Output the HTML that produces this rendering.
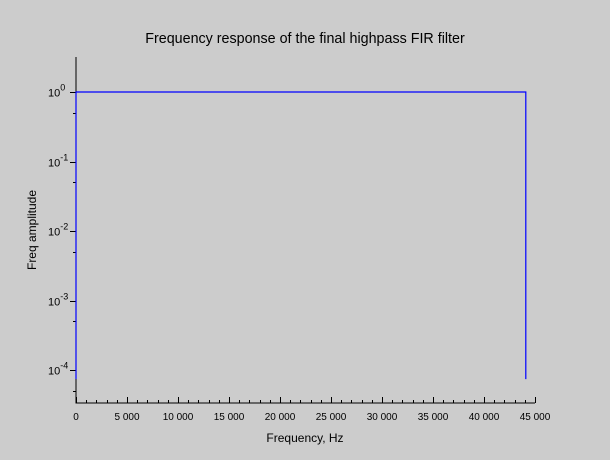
<!DOCTYPE html>
<html><head><style>
body{margin:0;background:#cccccc;}
svg{display:block;font-family:"Liberation Sans",sans-serif;}
</style></head><body>
<svg id="c" width="610" height="460">
<rect width="610" height="460" fill="#cccccc"/>
<text x="305" y="43" text-anchor="middle" font-size="14.3">Frequency response of the final highpass FIR filter</text>
<text x="305" y="442" text-anchor="middle" font-size="12">Frequency, Hz</text>
<text transform="translate(36,230) rotate(-90)" text-anchor="middle" font-size="12">Freq amplitude</text>
<g id="ax"></g>
</svg>
<script>
const freqs=[0,0,44100,44100];
const amps=[7.4e-5,1,1,7.4e-5];
const xTicks=[0,5000,10000,15000,20000,25000,30000,35000,40000,45000];
const yExps=[0,-1,-2,-3,-4];
const X0=76,XS=(535-76)/45000;
const sx=v=>X0+v*XS;
const sy=v=>92-Math.log10(v)*69.5;
const ns='http://www.w3.org/2000/svg';
const g=document.getElementById('ax');
function mk(t,a){const e=document.createElementNS(ns,t);for(const k in a)e.setAttribute(k,a[k]);g.appendChild(e);return e;}
let e=mk('line',{x1:76,y1:57,x2:76,y2:403.5,stroke:'#000'});


e=mk('line',{x1:75.5,y1:403,x2:535,y2:403,stroke:'#000'});


for(let v=0;v<=45000;v+=1000){const x=Math.round(sx(v))+0.5;mk('line',{x1:x,y1:403,x2:x,y2:v%5000===0?397:400,stroke:'#000'});}
xTicks.forEach(v=>{const t=mk('text',{x:sx(v),y:420,'text-anchor':'middle','font-size':10});t.textContent=v===0?'0':(v/1000)+' 000';

});
yExps.forEach(k=>{const y=Math.round(sy(Math.pow(10,k)))+0.5;mk('line',{x1:70,y1:y,x2:76,y2:y,stroke:'#000'});
const m=Math.round(sy(5*Math.pow(10,k-1)))+0.5;mk('line',{x1:73,y1:m,x2:76,y2:m,stroke:'#000'});
const t=mk('text',{x:48,y:y+4,'font-size':11});t.innerHTML='10<tspan dy="-6" font-size="9">'+k+'</tspan>';

});
const p=mk('polyline',{points:freqs.map((f,i)=>sx(f).toFixed(1)+','+sy(amps[i]).toFixed(1)).join(' '),fill:'none',stroke:'#0000ff','stroke-width':1.2});


</script>
</body></html>
